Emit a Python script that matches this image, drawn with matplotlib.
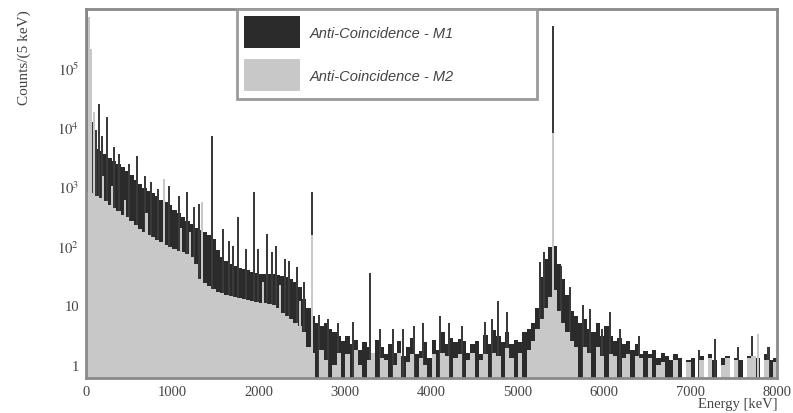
import matplotlib.pyplot as plt
import matplotlib.ticker as mticker
from matplotlib.patches import Patch
import numpy as np

# 50 keV wide groups, value = typical counts per 5 keV bin
bin_w = 50
bin_lo = np.arange(0, 8000, bin_w)

m1_counts = [
    4800, 4600, 4300, 4000, 3500, 3000, 2700, 2400, 2100, 1800,
    1550, 1300, 1100, 950, 840, 760, 680, 600, 540, 480,
    400, 350, 300, 265, 230, 200, 185, 170, 150, 130,
    85, 65, 56, 50, 46, 43, 41, 39, 37, 35,
    34, 34, 33, 33, 32, 31, 30, 28, 25, 20,
    13, 9, 6.5, 5, 4.5, 5, 4, 3.5, 3, 2.5,
    3, 2.2, 2.6, 1.8, 2.4, 2, 1.5, 2.6, 2, 1.5,
    2.2, 1.6, 2.5, 1.4, 2, 2.8, 1.5, 1.7, 2.4, 1.3,
    2.6, 1.8, 3.5, 2.2, 2.8, 2.4, 2.7, 2.5, 1.6, 2.2,
    2.5, 1.5, 3.2, 2.2, 3.8, 3, 2.4, 3.5, 2.2, 2.6,
    2.4, 3.5, 4, 5, 9, 30, 60, 95, 100, 50,
    28, 15, 8, 6.5, 5, 6, 4, 3.5, 5, 3,
    4.5, 3, 2.5, 2.8, 2.2, 2.5, 1.8, 2.2, 1.5, 1.7,
    1.5, 1.8, 1.3, 1.6, 1.4, 1.2, 1.5, 1.3, 0, 1.2,
    1.3, 0, 1.4, 0, 1.5, 1.2, 0, 1.3, 1.4, 0,
    1.3, 1.2, 0, 1.4, 1.2, 1.3, 0, 1.5, 1.2, 1.3,
]

m2_counts = [
    800, 760, 700, 640, 560, 480, 430, 380, 330, 300,
    260, 225, 195, 170, 155, 140, 125, 115, 105, 96,
    88, 82, 78, 73, 66, 50, 28, 24, 21, 19,
    17, 16, 15, 14.5, 14, 13.5, 13, 12.5, 12, 11.5,
    11, 11, 10.5, 10, 9, 7.5, 6.6, 6, 5, 4.5,
    3.5, 2, 1.6, 0, 1.8, 1.2, 0, 1, 1.6, 0,
    1.5, 0, 1.8, 1, 0, 1.2, 1.6, 0, 1.3, 1.2,
    0, 1, 1.6, 0, 1.1, 1.5, 0, 1.3, 1, 0,
    1.5, 0, 1.6, 1.4, 0, 1.3, 1.5, 0, 1.2, 1.6,
    0, 1.2, 1.5, 0, 1.6, 1.4, 0, 1.9, 1.3, 0,
    1.6, 0, 1.8, 2.5, 4, 6, 9, 14, 18, 8,
    5, 3.5, 2.5, 2, 0, 2, 1.6, 0, 2, 1.4,
    0, 1.5, 1.4, 0, 1.3, 1.5, 0, 1.4, 1.3, 0,
    1.3, 0, 1, 1.1, 0, 0, 1.2, 0, 0, 1.1,
    0, 0, 1.2, 0, 1.3, 0, 0, 1, 1.3, 0,
    1.2, 0, 0, 1.3, 1.4, 0, 0, 1.2, 0, 1.1,
]

# narrow lines and single-bin spikes
m1_line_e = [5, 40, 70, 110, 150, 190, 245, 320, 380, 500, 590, 680, 750,
             830, 960, 1075, 1170, 1250, 1310, 1460, 1590, 1650, 1700, 1760,
             1850, 1945, 1990, 2090, 2150, 2200, 2300, 2350, 2440, 2520,
             2615, 2700, 2800, 2920, 3090, 3290, 3400, 3550, 3670, 3800, 3900,
             4100, 4200, 4350, 4620, 4700, 4770, 4870, 5250, 5300, 5405, 5500,
             5600, 5750, 5830, 5970, 6065, 6180, 6400, 7100, 7280, 7550, 7710,
             7900]
m1_line_h = [9e5, 8000, 12000, 9000, 24000, 7000, 14700, 4500, 3500, 2400,
             3200, 1500, 1200, 900, 1000, 700, 800, 450, 500, 7000, 190, 120,
             100, 310, 90, 800, 90, 160, 80, 100, 60, 55, 44, 25,
             800, 7, 6, 5, 5.3, 35, 4, 4, 4, 4.5, 5,
             6.6, 5, 4.5, 5.3, 6, 12, 7.7, 54, 80, 5e5, 46,
             20, 10, 8.7, 4, 7.7, 4, 3, 1.8, 2.7, 2, 3,
             2]

m2_line_e = [30, 60, 95, 200, 300, 450, 700, 900, 1100, 1200, 1340, 2050,
             2250, 2480, 2615, 5405, 7780]
m2_line_h = [7e5, 2e5, 18000, 1500, 1000, 600, 350, 1340, 200, 170, 550, 25,
             22, 12, 150, 8000, 3.3]

labels = ["Anti-Coincidence - M1", "Anti-Coincidence - M2"]
colors = ["#2b2b2b", "#c8c8c8"]

yticks = [1, 10, 100, 1000, 1e4, 1e5]
ytick_labels = ["1", "10", "$10^{2}$", "$10^{3}$", "$10^{4}$", "$10^{5}$"]
xticks = [0, 1000, 2000, 3000, 4000, 5000, 6000, 7000, 8000]

plt.rcParams["mathtext.fontset"] = "stix"

fig = plt.figure(figsize=(7.93, 4.14), dpi=100)
ax = fig.add_axes([0.1085, 0.0845, 0.8715, 0.8915])
ax.set_yscale("log")

ax.bar(bin_lo, m1_counts, width=bin_w, align="edge", color=colors[0], linewidth=0)
ax.bar(m1_line_e, m1_line_h, width=24, color="#3a3a3a", linewidth=0)
ax.bar(bin_lo, m2_counts, width=bin_w, align="edge", color=colors[1], linewidth=0)
ax.bar(m2_line_e, m2_line_h, width=24, color=colors[1], linewidth=0)

ax.set_xlim(0, 8000)
ax.set_ylim(0.6, 9.6e5)

ax.xaxis.set_major_locator(mticker.FixedLocator(xticks))
ax.yaxis.set_major_locator(mticker.FixedLocator(yticks))
ax.yaxis.set_major_formatter(mticker.FixedFormatter(ytick_labels))
ax.yaxis.set_minor_locator(mticker.NullLocator())
ax.tick_params(length=0, labelsize=10.5, labelcolor="#444", pad=5)
for lab in ax.get_xticklabels() + ax.get_yticklabels():
    lab.set_family("Liberation Serif")

for sp in ax.spines.values():
    sp.set_color("#8a8a8a")
    sp.set_linewidth(2)

fig.text(0.03, 0.976, "Counts/(5 keV)", rotation=90, ha="center", va="top",
         family="Liberation Serif", fontsize=11, color="#444")
fig.text(0.98, 0.022, "Energy [keV]", ha="right", va="center",
         family="Liberation Serif", fontsize=10.5, color="#444")

handles = [Patch(facecolor=c, edgecolor="none") for c in colors]
leg = ax.legend(handles, labels, loc="upper left",
                bbox_to_anchor=(237 / 793, 1 - 97 / 414, 300 / 793, 87 / 414),
                bbox_transform=fig.transFigure, mode="expand",
                prop={"family": "Liberation Sans", "style": "italic", "size": 10.5},
                handlelength=3.8, handleheight=3.0, labelspacing=0.75,
                handletextpad=0.7, borderpad=0.5, borderaxespad=0,
                fancybox=False, framealpha=1, labelcolor="#444")
leg.get_frame().set_edgecolor("#9a9a9a")
leg.get_frame().set_linewidth(2)

fig.savefig("out.png", dpi=100)
